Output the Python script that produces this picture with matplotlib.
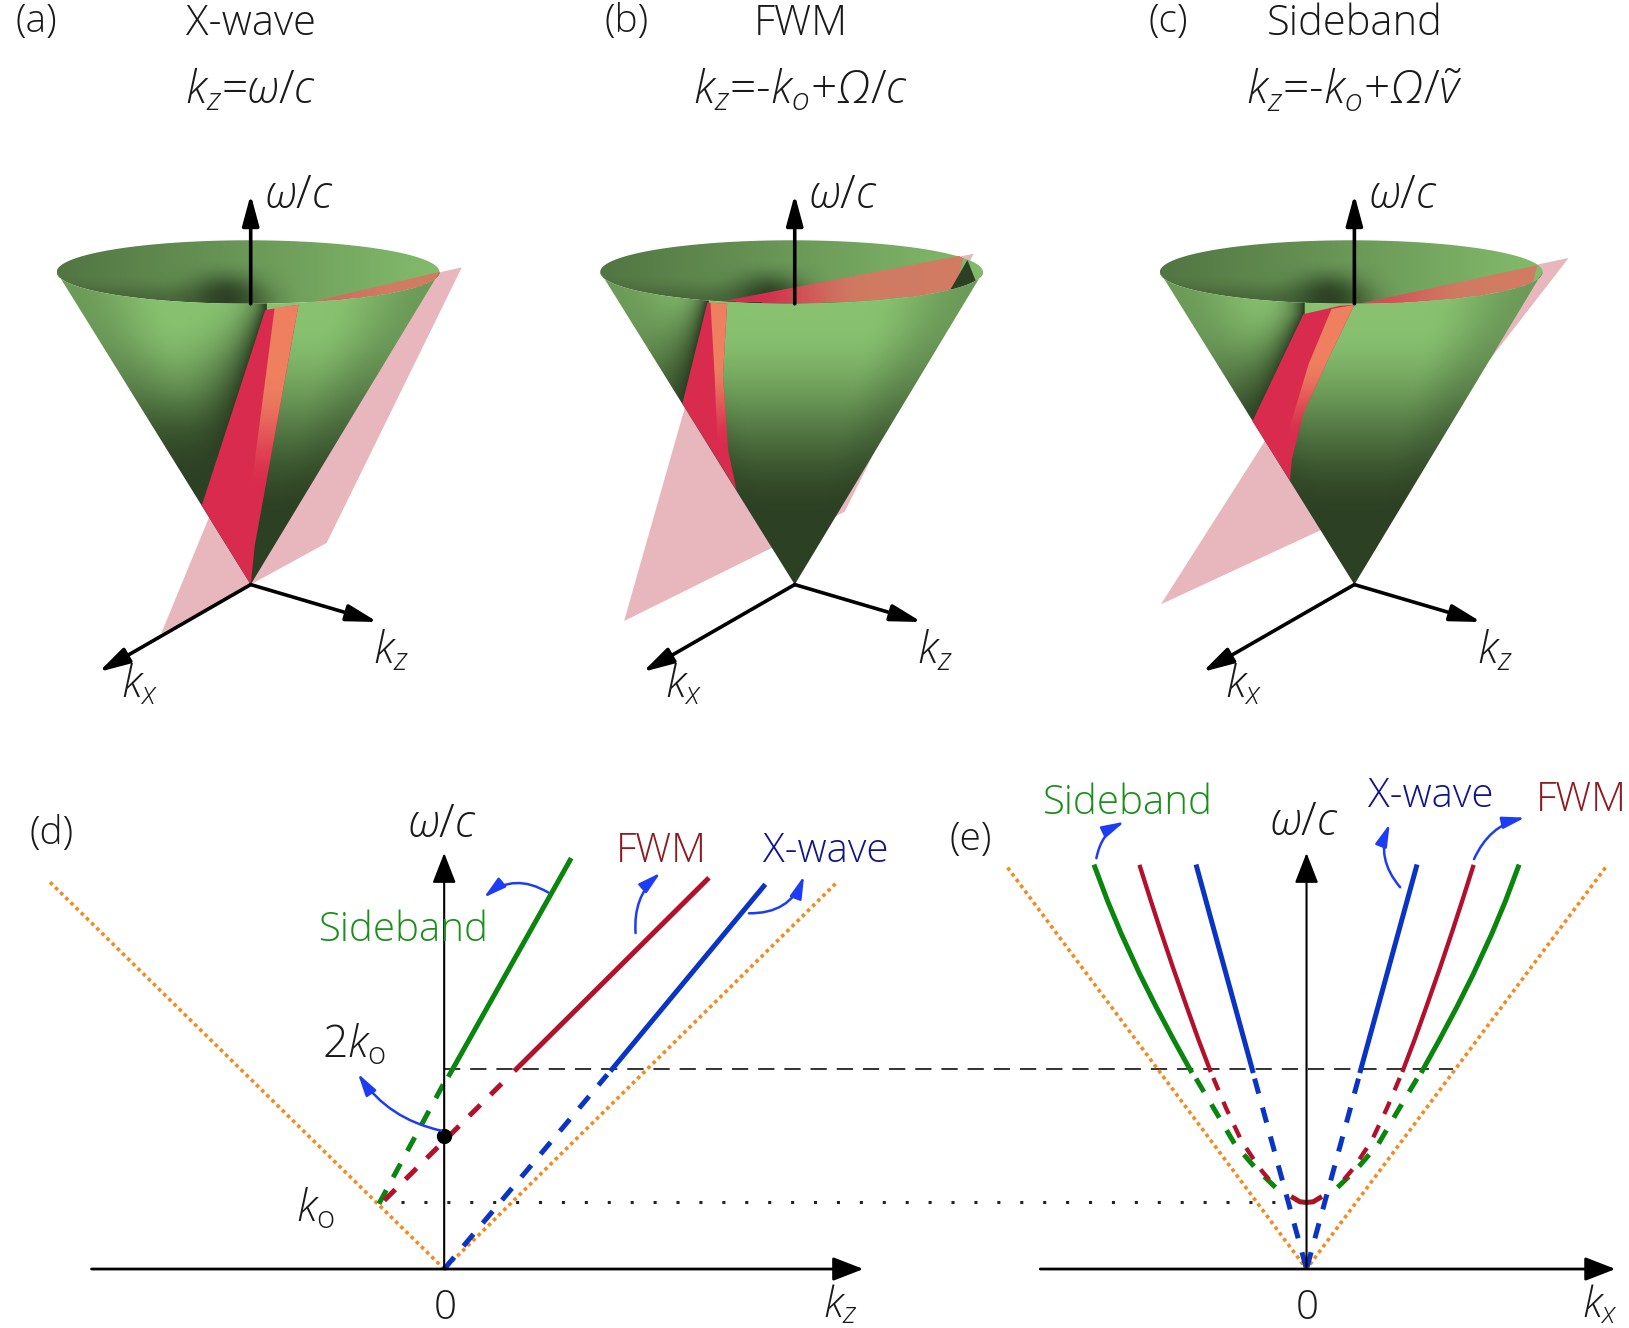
import numpy as np
import matplotlib
matplotlib.use("Agg")
import matplotlib.pyplot as plt
from matplotlib.patches import FancyArrowPatch, Polygon

plt.rcParams['font.family'] = ['Open Sans', 'DejaVu Sans']
plt.rcParams['font.weight'] = 'light'
plt.rcParams['mathtext.fontset'] = 'custom'
plt.rcParams['mathtext.rm'] = 'Open Sans:light'
plt.rcParams['mathtext.it'] = 'Open Sans:italic:light'
plt.rcParams['mathtext.cal'] = 'Open Sans:italic:light'  # used only to get a slanted capital omega
plt.rcParams['mathtext.fallback'] = 'stixsans'

# -------------------------------------------------------------------------
# panel (d): dispersion lines in units of k0 (kz, omega/c)
# -------------------------------------------------------------------------
light_kz = [-5.92, 0, 5.9]
light_w = [5.81, 0, 5.81]
side_kz = [0.08, 1.89]
side_w = [2.92, 6.14]
side_kz_d = [-0.98, 0.0]
side_w_d = [0.98, 2.8]
fwm_kz = [1.08, 3.95]
fwm_w = [3.0, 5.85]
fwm_kz_d = [-0.9, 1.0]
fwm_w_d = [1.03, 2.92]
xw_kz = [2.52, 4.8]
xw_w = [3.0, 5.75]
xw_kz_d = [0.0, 2.45]
xw_w_d = [0.0, 2.92]

# -------------------------------------------------------------------------
# panel (e): hyperbola branches (kx, omega/c), right side, mirrored for left
# -------------------------------------------------------------------------
light_kx = [4.49, 0]
light_wx = [6.03, 0]
side_kx = [3.18, 2.985, 2.78, 2.505, 2.26, 2.0, 1.74]
side_wx = [6.04, 5.52, 5.03, 4.43, 3.94, 3.45, 2.98]
side_kx_d = [1.66, 1.35, 1.08, 0.77, 0.44]
side_wx_d = [2.86, 2.34, 1.88, 1.52, 1.2]
fwm_kx = [2.5, 2.335, 2.195, 2.01, 1.80, 1.625, 1.45]
fwm_wx = [6.04, 5.52, 5.09, 4.54, 3.94, 3.45, 2.99]
fwm_kx_d = [1.4, 1.21, 0.98, 0.71, 0.44]
fwm_wx_d = [2.87, 2.42, 1.93, 1.52, 1.2]
fwm_arc_k = [-0.2, -0.1, 0, 0.1, 0.2]
fwm_arc_w = [1.07, 1.01, 1.0, 1.01, 1.07]
xw_kx = [1.65, 0.81]
xw_wx = [6.04, 2.98]
xw_kx_d = [0.78, 0.0]
xw_wx_d = [2.86, 0.0]

# cones, in picture units
cone_x = [241, 764, 1302]
rim_x = [238.5, 761, 1299]
apex_y = 562
rim_rx = [184, 184, 184]
rim_y = 261.5
rim_ry = 30.5

planes = [
    [(155, 609), (314, 522), (444, 257), (285, 293)],
    [(600, 597), (812, 492), (936, 244), (687, 291)],
    [(1116, 581), (1325, 484), (1508, 248), (1300, 292)],
]
red_strips = [
    [(255, 298), (287, 293), (245, 524), (241, 562), (194, 486)],
    [(680, 291), (699, 292), (695, 361), (700, 433), (708, 471), (656, 388)],
    [(1253, 302), (1288, 294), (1302, 293), (1276, 347), (1253, 397), (1242, 441), (1240, 462), (1204, 405)],
]
orange_strips = [
    [(264, 296), (287, 293), (254, 473), (241, 473)],
    [(683, 291), (699, 292), (695, 361), (700, 433), (690, 433), (687, 361)],
    [(1280, 297), (1302, 293), (1276, 347), (1253, 397), (1245, 425), (1240, 410), (1258, 350)],
]
wedges = [
    [(297, 291), (424, 261), (424, 300), (297, 300)],
    [(687, 291), (927, 245), (918, 280), (905, 290), (880, 300), (687, 300)],
    [(1302, 293), (1478, 255), (1470, 285), (1440, 300), (1302, 300)],
]
wedge_red = [0.2, 1.0, 0.6]
notch = [
    None,
    [(930, 250), (938, 270), (911, 283)],
    [(1480, 266), (1483, 272), (1470, 285)],
]
strip_y = [[298, 486], [291, 388], [302, 405]]
strip_x = [[255, 195], [680, 656], [1253, 1207]]

titles = ["X-wave", "FWM", "Sideband"]
formulas = [r"$k_z$=$\omega/c$", r"$k_z$=-$k_o$+$\mathcal{\Omega}/c$", r"$k_z$=-$k_o$+$\mathcal{\Omega}/\tilde{v}$"]
letters = ["(a)", "(b)", "(c)"]
title_x = [241, 770, 1302]
letter_x = [35, 602, 1123]

GREEN = '#0a860f'
RED = '#b3102c'
BLUE = '#0a34c4'
ORANGE = '#f58a1f'
ARROW = '#1d3cf5'
PINK = '#e7b7bd'

W, H = 1566., 1276.7
fig = plt.figure(figsize=(16.29, 13.28), dpi=100)


def sstep(a, b, x):
    s = np.clip((x - a) / (b - a), 0, 1)
    return s * s * (3 - 2 * s)


def green_rgb(b):
    light = np.array([136, 194, 112]) / 255.
    dark = np.array([44, 64, 35]) / 255.
    return dark + (light - dark) * b[..., None]


def sub_axes(x0, x1, y0, y1, unit, ox, oy):
    # axes with data units of k0, placed by picture pixels
    a = fig.add_axes([x0 / W, 1 - y1 / H, (x1 - x0) / W, (y1 - y0) / H])
    a.set_xlim((x0 - ox) / unit, (x1 - ox) / unit)
    a.set_ylim((oy - y1) / unit, (oy - y0) / unit)
    a.axis('off')
    return a


# overlay axes, in picture pixels, for cones, labels and arrows
ax = fig.add_axes([0, 0, 1, 1])
ax.axis('off')


def draw_cone(i):
    ax0, cx, rx = cone_x[i], rim_x[i], rim_rx[i]
    th = np.linspace(0, 2 * np.pi, 200)
    ell = np.c_[cx + rx * np.cos(th), rim_y + rim_ry * np.sin(th)]
    ell_patch = Polygon(ell, closed=True, fc='none', ec='none')
    ax.add_patch(ell_patch)

    ax.add_patch(Polygon(planes[i], closed=True, fc=PINK, ec='none', zorder=1))

    # inside of the cone
    xs = np.linspace(cx - rx, cx + rx, 300)
    ys = np.linspace(rim_y - rim_ry, rim_y + rim_ry, 60)
    X, Y = np.meshgrid(xs, ys)
    v = (X - cx) / rx
    b = 0.68 + 0.27 * v
    b = b * (1 - 0.95 * np.exp(-((X - (cx - 22)) / 32.) ** 2) * sstep(-0.4, 0.8, (Y - rim_y) / rim_ry))
    b = b * (1 - 0.45 * sstep(0.1, 1.0, (Y - rim_y) / rim_ry) * (1 - sstep(-0.1, 0.3, v)))
    im = ax.imshow(green_rgb(np.clip(b, 0, 1)), extent=[xs[0], xs[-1], ys[-1], ys[0]],
                   aspect='auto', zorder=2, interpolation='bilinear')
    im.set_clip_path(ell_patch)

    # plane seen inside the rim, red at its left end and orange towards the right
    pts = np.array(wedges[i])
    w = Polygon(wedges[i], closed=True, fc='none', ec='none')
    ax.add_patch(w)
    xs = np.linspace(pts[:, 0].min(), pts[:, 0].max(), 200)
    ys = np.linspace(pts[:, 1].min(), pts[:, 1].max(), 60)
    X, Y = np.meshgrid(xs, ys)
    f = sstep(0.12, 0.6, (X - xs[0]) / (xs[-1] - xs[0]))
    f = 1 - wedge_red[i] * (1 - f)
    rgba = np.ones(X.shape + (4,))
    rgba[..., :3] = (np.array([226, 44, 82]) + (np.array([216, 118, 98]) - np.array([226, 44, 82])) * f[..., None]) / 255.
    inside = ((X - cx) / rx) ** 2 + ((Y - rim_y) / rim_ry) ** 2 <= 1
    rgba[..., 3] = 0.92 * inside
    im = ax.imshow(rgba, extent=[xs[0], xs[-1], ys[-1], ys[0]], aspect='auto', zorder=3,
                   interpolation='nearest')
    im.set_clip_path(w)
    if notch[i] is not None:
        n = Polygon(notch[i], closed=True, fc='#2c4023', ec='none', zorder=3)
        ax.add_patch(n)
        n.set_clip_path(ell_patch)

    # outside of the cone
    arc = np.linspace(0, np.pi, 100)
    verts = [(cx - rx, rim_y), (ax0, apex_y), (cx + rx, rim_y)]
    verts += list(zip(cx + rx * np.cos(arc), rim_y + rim_ry * np.sin(arc)))
    outer = Polygon(verts, closed=True, fc='none', ec='none')
    ax.add_patch(outer)
    xs = np.linspace(cx - rx, cx + rx, 500)
    ys = np.linspace(rim_y - rim_ry, apex_y, 400)
    X, Y = np.meshgrid(xs, ys)
    t = (Y - rim_y) / (apex_y - rim_y)
    u = np.clip((X - (ax0 + (cx - ax0) * (1 - t))) / np.maximum((1 - t) * rx, 1), -1, 1)
    b = (1 - sstep(0.15, 0.8, t)) * (1 - 0.3 * sstep(0.45, 1, np.abs(u)))
    # dark band on the left of the cut
    edge = np.interp(Y, strip_y[i], strip_x[i])
    d = edge - X
    band = np.exp(-np.maximum(d, 0) / (6 + 70 * t)) * (d >= -1)
    b = b * (1 - band)
    b = b * np.where(d > 0, 1 - 0.6 * sstep(0.35, 0.7, t), 1)
    im = ax.imshow(green_rgb(b), extent=[xs[0], xs[-1], ys[-1], ys[0]], aspect='auto',
                   zorder=4, interpolation='bilinear')
    im.set_clip_path(outer)

    # red strip and its orange part
    ax.add_patch(Polygon(red_strips[i], closed=True, fc='#d92b4e', ec='none', zorder=5))
    poly = Polygon(orange_strips[i], closed=True, fc='none', ec='none')
    ax.add_patch(poly)
    pts = np.array(orange_strips[i])
    xs = np.linspace(pts[:, 0].min(), pts[:, 0].max(), 40)
    ys = np.linspace(pts[:, 1].min(), pts[:, 1].max(), 100)
    X, Y = np.meshgrid(xs, ys)
    rgba = np.ones(X.shape + (4,))
    rgba[..., :3] = np.array([238, 128, 96]) / 255.
    rgba[..., 3] = 1 - sstep(0.4, 1.0, (Y - ys[0]) / (ys[-1] - ys[0]))
    im = ax.imshow(rgba, extent=[xs[0], xs[-1], ys[-1], ys[0]], aspect='auto', zorder=6,
                   interpolation='bilinear')
    im.set_clip_path(poly)

    # axes
    black_arrow((ax0, rim_y + rim_ry), (ax0, 187), 2.6, 22, 0.85, 0.23)
    black_arrow((ax0, apex_y), (ax0 + 122, 598), 2.6, 22, 0.85, 0.23)
    black_arrow((ax0, apex_y), (ax0 - 146, 646), 2.6, 22, 0.85, 0.23)
    label(ax0 + 47, 188, r"$\omega/c$", 33)
    label(ax0 + 135, 627, r"$k_z$", 32)
    label(ax0 - 107, 660, r"$k_x$", 32)


def black_arrow(a, b, lw=2.4, ms=26, hl=0.72, hw=0.28):
    ax.add_patch(FancyArrowPatch(a, b, arrowstyle=f'-|>,head_length={hl},head_width={hw}',
                                 mutation_scale=ms, color='k', lw=lw, shrinkA=0, shrinkB=0, zorder=7))


def blue_arrow(a, b, rad):
    ax.add_patch(FancyArrowPatch(a, b, arrowstyle='-|>,head_length=0.75,head_width=0.2',
                                 connectionstyle=f'arc3,rad={rad}', mutation_scale=18, color=ARROW,
                                 lw=1.8, shrinkA=0, shrinkB=0, zorder=9))


def label(x, y, s, size=30, color='#1a1a1a'):
    ax.text(x, y, s, fontsize=size, color=color, ha='center', va='center', zorder=10)


for i in range(3):
    draw_cone(i)
    label(letter_x[i], 21, letters[i], 28)
    label(title_x[i], 23, titles[i], 30)
    label(title_x[i], 88, formulas[i], 33)

ax.set_xlim(0, W)
ax.set_ylim(H, 0)

# -------------------------------------------------------------------------
# panels (d) and (e)
# -------------------------------------------------------------------------
UNIT = 64.
axd = sub_axes(0, 880, 700, H, UNIT, 427, 1220)
axe = sub_axes(900, W, 700, H, UNIT, 1256, 1220)
ax.set_zorder(3)

LW = 3.6
LW_R = 3.1
DASH = (0, (3.1, 2.9))
DOT = (0, (1, 1))

# horizontal guide lines run from (d) across to (e)
axd.plot([0, 15.15], [3, 3], color='#222222', lw=1.3, ls=(0, (9, 5.5)), clip_on=False)
axd.plot([-0.65, 12.6], [1, 1], color='#222222', lw=2.2, ls=(0, (1, 6.5)), clip_on=False)

axd.plot(light_kz, light_w, color=ORANGE, lw=2.6, ls=DOT)
axd.plot(side_kz, side_w, color=GREEN, lw=LW)
axd.plot(side_kz_d, side_w_d, color=GREEN, lw=LW, ls=DASH)
axd.plot(fwm_kz, fwm_w, color=RED, lw=LW)
axd.plot(fwm_kz_d, fwm_w_d, color=RED, lw=LW, ls=DASH)
axd.plot(xw_kz, xw_w, color=BLUE, lw=LW)
axd.plot(xw_kz_d, xw_w_d, color=BLUE, lw=LW, ls=DASH)
axd.plot([0], [2], 'o', color='k', ms=10, zorder=5)

for sgn in [1, -1]:
    axe.plot(sgn * np.array(light_kx), light_wx, color=ORANGE, lw=2.6, ls=DOT)
    axe.plot(sgn * np.array(side_kx), side_wx, color=GREEN, lw=LW)
    axe.plot(sgn * np.array(side_kx_d), side_wx_d, color=GREEN, lw=LW, ls=DASH)
    axe.plot(sgn * np.array(fwm_kx), fwm_wx, color=RED, lw=LW_R)
    axe.plot(sgn * np.array(fwm_kx_d), fwm_wx_d, color=RED, lw=LW_R, ls=DASH)
    axe.plot(sgn * np.array(xw_kx), xw_wx, color=BLUE, lw=LW)
    axe.plot(sgn * np.array(xw_kx_d), xw_wx_d, color=BLUE, lw=LW, ls=DASH)
axe.plot(fwm_arc_k, fwm_arc_w, color='#a8141f', lw=LW)

# chart axes
black_arrow((88, 1220), (830, 1220), lw=2.0)
black_arrow((427, 1220), (427, 820), lw=1.5)
black_arrow((1000, 1220), (1553, 1220), lw=2.0)
black_arrow((1256, 1220), (1256, 820), lw=1.5)

blue_arrow((527, 858), (465, 863), 0.35)
blue_arrow((611, 897), (635, 839), -0.25)
blue_arrow((720, 878), (773, 842), 0.35)
blue_arrow((424, 1087), (344, 1032), -0.2)
blue_arrow((1054, 825), (1081, 790), -0.25)
blue_arrow((1346, 853), (1336, 792), -0.3)
blue_arrow((1417, 826), (1466, 786), -0.25)

label(50, 802, "(d)", 28)
label(425, 793, r"$\omega/c$", 33)
label(636, 819, "FWM", 29, '#8c1a20')
label(794, 819, "X-wave", 29, '#10148c')
label(388, 895, "Sideband", 29, '#1a8f1a')
label(340, 1006, r"$2k_{\mathrm{o}}$", 32)
label(303, 1163, r"$k_{\mathrm{o}}$", 32)
label(428, 1258, "0", 29)
label(808, 1255, r"$k_z$", 31)

label(933, 807, "(e)", 28)
label(1254, 791, r"$\omega/c$", 33)
label(1084, 772, "Sideband", 29, '#1a8f1a')
label(1375, 766, "X-wave", 29, '#10148c')
label(1520, 770, "FWM", 29, '#8c1a20')
label(1257, 1258, "0", 29)
label(1538, 1255, r"$k_x$", 31)

fig.savefig("out.png", dpi=100)
